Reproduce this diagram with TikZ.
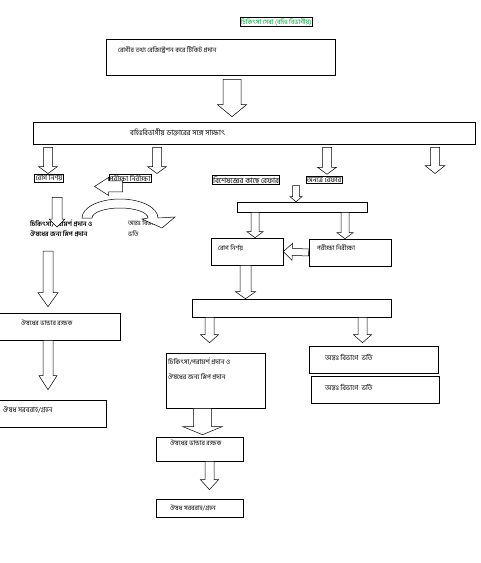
\documentclass[tikz,border=0pt]{standalone}
\usepackage{fontspec}
\usetikzlibrary{calc}
\newfontfamily\bn[Script=Bengali]{Hind Siliguri}
\definecolor{titlegreen}{RGB}{0,160,60}

% block arrow: start, tip, shaft half width, head half width, head length
\newcommand{\blockarrow}[5]{%
  \coordinate (ba-s) at (#1);
  \coordinate (ba-t) at (#2);
  \coordinate (ba-h) at ($(ba-t)!#5!(ba-s)$);
  \draw[blockarrow] ($(ba-s)!#3!90:(ba-t)$) -- ($(ba-h)!#3!90:(ba-t)$) -- ($(ba-h)!#4!90:(ba-t)$) -- (ba-t)
    -- ($(ba-h)!#4!-90:(ba-t)$) -- ($(ba-h)!#3!-90:(ba-t)$) -- ($(ba-s)!#3!-90:(ba-t)$) -- cycle;
}

\begin{document}
\begin{tikzpicture}[x=1pt,y=-1pt,
    box/.style={draw, line width=0.6pt, inner sep=0pt},
    tag/.style={draw, line width=0.6pt, inner sep=0.8pt, font=\bn\fontsize{7}{8}\selectfont},
    txt/.style={inner sep=0pt, anchor=west, font=\bn\fontsize{6.5}{8}\selectfont},
    blockarrow/.style={draw, fill=white, line width=0.5pt}
    ]
  \useasboundingbox (0,0) rectangle (481,563);

  % title and first steps
  \node[tag, font=\bn\fontsize{6.5}{8}\selectfont, text=titlegreen] (title) at (276,22) {চিকিৎসা সেবা (বহিঃ বিভাগীয়)};
  \node[box, minimum width=229pt, minimum height=36pt] (reg) at (220.5,57) {};
  \node[txt] (reg-t) at (118,50) {রোগীর তথ্য রেজিস্ট্রেশন করে টিকিট প্রদান};
  \node[box, minimum width=442pt, minimum height=22pt] (meet) at (254,133) {};
  \node[txt, font=\bn\fontsize{7.3}{8}\selectfont] (meet-t) at (130,132) {বহিঃবিভাগীয় ডাক্তারের সঙ্গে সাক্ষাৎ};
  \blockarrow{$(232,0 |- reg.south)+(0,4)$}{$(232,0 |- meet.north)+(0,-5)$}{9pt}{14.5pt}{12pt}

  % choices after meeting the doctor
  \node[tag] (diag1) at (49,178) {রোগ নির্ণয়};
  \node[tag] (test1) at (130,178) {পরীক্ষা নিরীক্ষা};
  \node[tag, font=\bn\fontsize{7.5}{8}\selectfont] (refsp) at (246,180) {বিশেষজ্ঞের কাছে রেফার};
  \node[tag] (refel) at (324,180) {অন্যত্র রেফার};
  \blockarrow{$(48,0 |- meet.south)+(0,3)$}{48,0 |- diag1.north}{4.5pt}{9.5pt}{7pt}
  \blockarrow{$(157,0 |- meet.south)+(0,3)$}{157,0 |- test1.north}{4.5pt}{9.5pt}{7pt}
  \blockarrow{$(327,0 |- meet.south)+(0,3)$}{$(327,0 |- refel.north)+(0,-2)$}{4.5pt}{9.5pt}{7pt}
  \blockarrow{$(435,0 |- meet.south)+(0,3)$}{435,0 |- test1.north}{4.5pt}{10pt}{8pt}
  \blockarrow{$(test1.south west)+(14,4)$}{$(test1.south west)+(-14,4)$}{5.5pt}{9pt}{14pt}

  % left column
  \node[txt, anchor=north west, align=left, font=\bn\bfseries\fontsize{6.5}{10.5}\selectfont] (adv1) at (30,220)
    {চিকিৎসা/পরামর্শ প্রদান ও\\ঔষধের জন্য স্লিপ প্রদান};
  \node[txt, anchor=north west, align=left, font=\bn\fontsize{6.5}{11}\selectfont] (adm0) at (128,220)
    {অন্তঃ বিভাগে\\ভর্তি};
  \blockarrow{$(57,0 |- diag1.south)+(0,15)$}{$(57,0 |- adv1.north)+(0,7)$}{5pt}{8pt}{8pt}
  \draw[blockarrow] (82,218) arc[start angle=180, end angle=0, x radius=38pt, y radius=19pt]
    -- (175,217) -- (162,228) -- (142,219) -- (148,218)
    arc[start angle=0, end angle=180, x radius=28pt, y radius=10pt] -- cycle;
  \node[box, minimum width=121pt, minimum height=27pt] (store1) at (59.5,326.5) {};
  \node[txt] (store1-t) at (21,323) {ঔষধের ভান্ডার রক্ষক};
  \node[box, minimum width=107pt, minimum height=27pt] (supply1) at (52.5,413.5) {};
  \node[txt, font=\bn\fontsize{7}{8}\selectfont] (supply1-t) at (3,410) {ঔষধ সরবরাহ/গ্রহন};
  \blockarrow{$(48,0 |- adv1.south)+(0,14)$}{$(48,0 |- store1.north)+(0,-6)$}{5pt}{10pt}{14pt}
  \blockarrow{48,0 |- store1.south}{$(48,0 |- supply1.north)+(0,-10)$}{5pt}{9pt}{14pt}

  % referral to specialist
  \node[box, minimum width=130pt, minimum height=10pt] (split1) at (302,207) {};
  \node[box, minimum width=72pt, minimum height=27pt] (diag2) at (247,251.5) {};
  \node[txt] (diag2-t) at (218,248) {রোগ নির্ণয়};
  \node[box, minimum width=82pt, minimum height=27pt] (test2) at (350,252.5) {};
  \node[txt] (test2-t) at (317,248) {পরীক্ষা নিরীক্ষা};
  \blockarrow{$(296,0 |- refsp.south)+(0,1)$}{296,0 |- split1.north}{3.5pt}{6pt}{5pt}
  \blockarrow{255,0 |- split1.south}{255,0 |- diag2.north}{4pt}{8pt}{6pt}
  \blockarrow{345,0 |- split1.south}{345,0 |- test2.north}{4pt}{8pt}{6pt}
  \blockarrow{test2.west}{diag2.east}{3.5pt}{8.5pt}{9pt}

  \node[box, minimum width=199pt, minimum height=18pt] (split2) at (291.5,308) {};
  \blockarrow{245.5,0 |- diag2.south}{245.5,0 |- split2.north}{5.5pt}{10pt}{7pt}
  \node[box, minimum width=99pt, minimum height=55pt] (advice) at (215.5,380.5) {};
  \node[txt, anchor=north west, align=left, font=\bn\fontsize{6.7}{15}\selectfont] (advice-t) at (168,358)
    {চিকিৎসা/পরামর্শ প্রদান ও\\ঔষধের জন্য স্লিপ প্রদান};
  \node[box, minimum width=129pt, minimum height=27pt] (admit1) at (373.5,359.5) {};
  \node[txt, font=\bn\fontsize{7}{8}\selectfont] (admit1-t) at (325,357) {অন্তঃ বিভাগে\ \ ভর্তি};
  \node[box, minimum width=128pt, minimum height=27pt] (admit2) at (375,389.5) {};
  \node[txt, font=\bn\fontsize{7}{8}\selectfont] (admit2-t) at (325,387) {অন্তঃ বিভাগে\ \ ভর্তি};
  \blockarrow{209.5,0 |- split2.south}{$(209.5,0 |- advice.north)+(0,-10)$}{4.5pt}{9pt}{8pt}
  \blockarrow{362.5,0 |- split2.south}{$(362.5,0 |- admit1.north)+(0,-3)$}{4.5pt}{9pt}{8pt}

  \node[box, minimum width=87pt, minimum height=24pt] (store2) at (199.5,449) {};
  \node[txt] (store2-t) at (170,443) {ঔষধের ভান্ডার রক্ষক};
  \node[box, minimum width=87pt, minimum height=18pt] (supply2) at (199.5,508) {};
  \node[txt] (supply2-t) at (170,508) {ঔষধ সরবরাহ/গ্রহন};
  \blockarrow{202.5,0 |- advice.south}{$(202.5,0 |- store2.north)+(0,-2)$}{9pt}{19.5pt}{8pt}
  \blockarrow{209.5,0 |- store2.south}{$(209.5,0 |- supply2.north)+(0,-9)$}{4.5pt}{9pt}{10pt}
\end{tikzpicture}
\end{document}
